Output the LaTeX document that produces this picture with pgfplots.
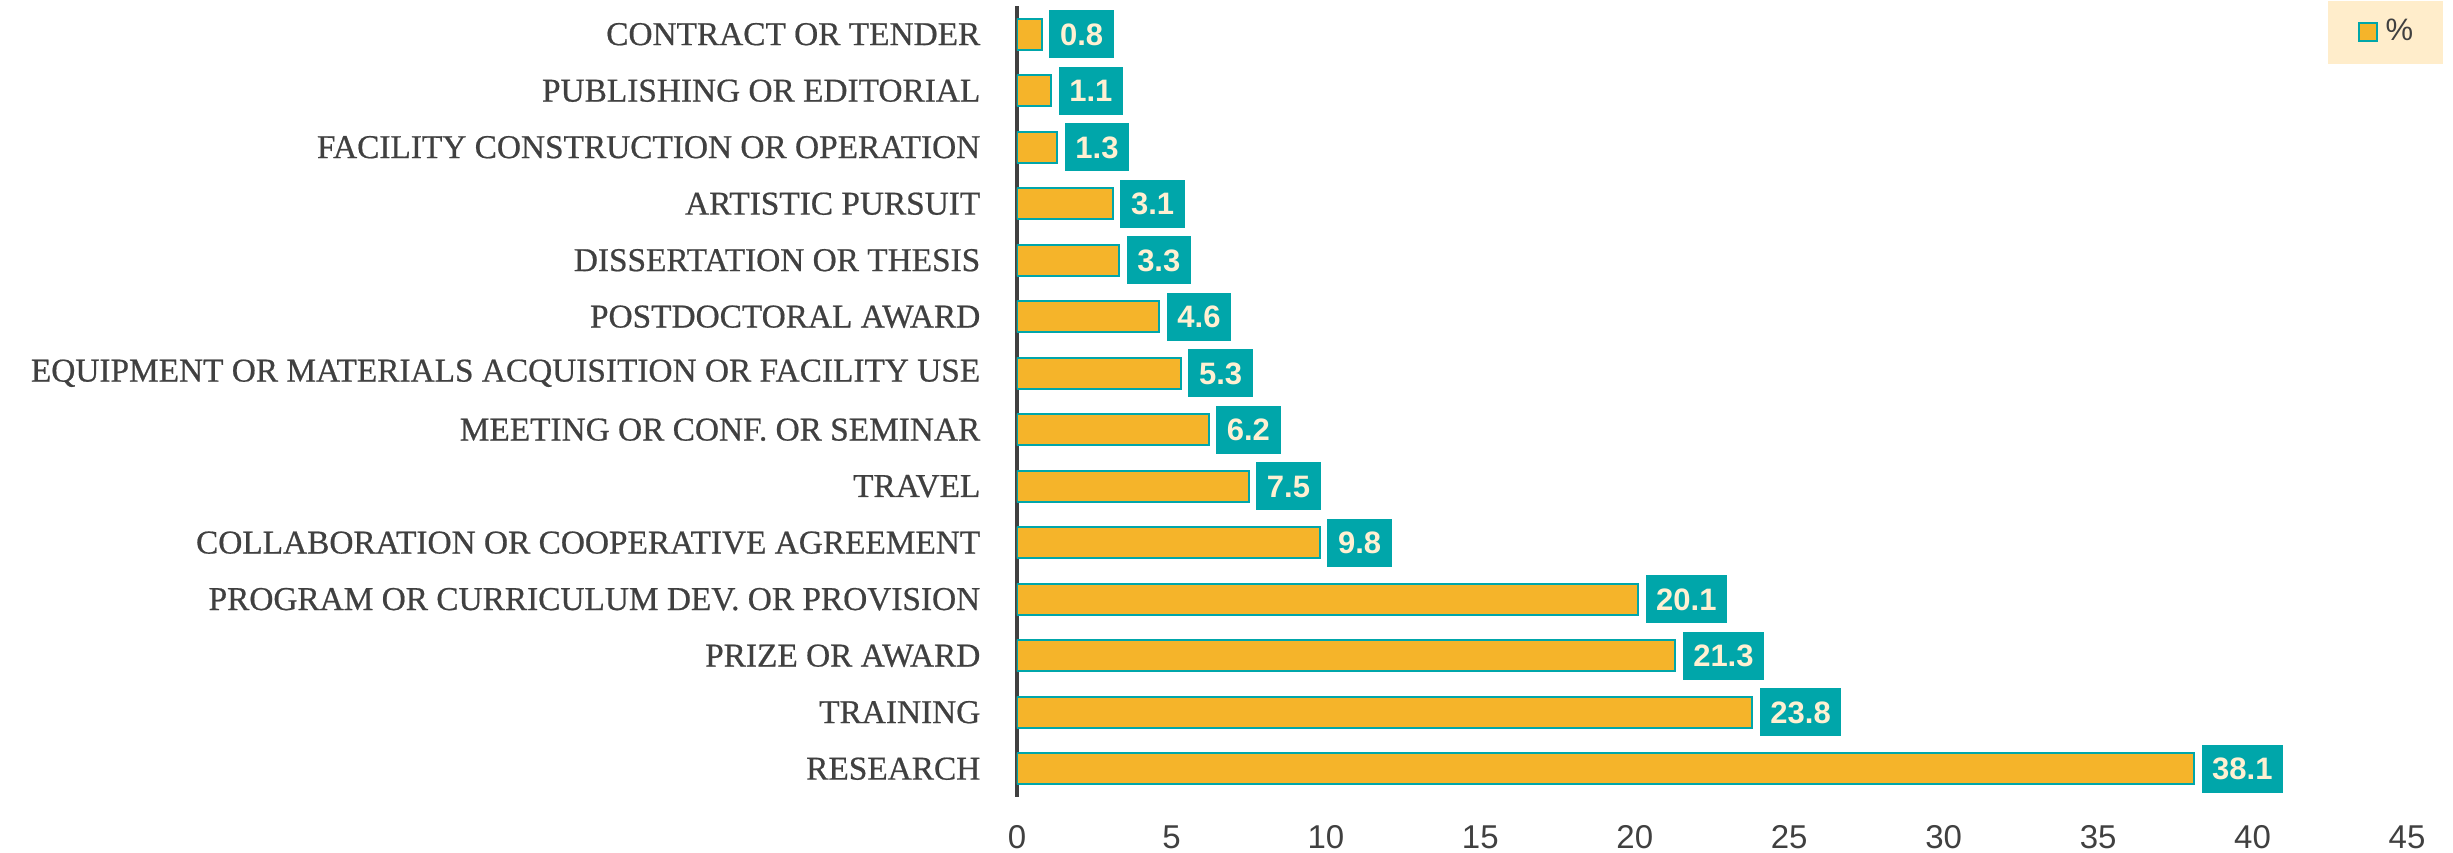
\documentclass[border=0pt]{standalone}
\usepackage{pgfplots}
\pgfplotsset{compat=1.18}
\usepackage{fontspec}
\setmainfont{Liberation Serif}
\newfontfamily\catf{Liberation Serif}[FakeBold=0.6]
\newfontfamily\sansf{Liberation Sans}
\definecolor{barfill}{HTML}{F5B42A}
\definecolor{teal}{HTML}{00A6AA}
\definecolor{cream}{HTML}{FFF0D2}
\definecolor{legcream}{HTML}{FFEDCB}
\definecolor{txt}{HTML}{404040}
\begin{document}
\begin{tikzpicture}
\begin{axis}[
  name=ax,
  at={(0,0)}, anchor=south west,
  scale only axis,
  width=417pt, height=237.3pt,
  xbar, bar width=9.3pt,
  xmin=0, xmax=45,
  ymin=-0.5, ymax=13.5,
  xtick={0,5,...,45},
  ytick={0,...,13},
  yticklabels={RESEARCH,TRAINING,PRIZE OR AWARD,PROGRAM OR CURRICULUM DEV. OR PROVISION,COLLABORATION OR COOPERATIVE AGREEMENT,TRAVEL,MEETING OR CONF. OR SEMINAR,EQUIPMENT OR MATERIALS ACQUISITION OR FACILITY USE,POSTDOCTORAL AWARD,DISSERTATION OR THESIS,ARTISTIC PURSUIT,FACILITY CONSTRUCTION OR OPERATION,PUBLISHING OR EDITORIAL,CONTRACT OR TENDER},
  major tick length=0pt,
  separate axis lines,
  axis x line*=bottom,
  axis y line*=left,
  x axis line style={draw=none},
  y axis line style={draw=txt, line width=1.2pt, -},
  /pgf/number format/assume math mode=true,
  xticklabel style={font=\sansf\fontsize{9.9}{11}\selectfont, text=txt, anchor=center, yshift=-12pt},
  yticklabel style={font=\catf\fontsize{10}{12}\selectfont, text=txt, anchor=east, inner sep=0pt, xshift=-10.8pt},
  nodes near coords={\pgfmathprintnumber[fixed,precision=1,fixed zerofill]{\pgfplotspointmeta}},
  every node near coord/.append style={anchor=west, fill=teal, text=cream,
     font=\sansf\bfseries\fontsize{9.3}{11}\selectfont, inner xsep=3.2pt, inner ysep=3.9pt,
     text height=6.7pt, text depth=0pt, xshift=2pt},
  legend style={at={(0.9424,1.00759)}, anchor=north west, fill=legcream, draw=none,
     inner xsep=9pt, inner ysep=5.6pt, font=\sansf\fontsize{9.3}{11}\selectfont, text=txt,
     nodes={inner sep=0pt},
     /tikz/every odd column/.append style={column sep=2.4pt}},
  legend image code/.code={\draw[#1] (0pt,-2.6pt) rectangle (5.4pt,2.8pt);},
]
\addplot[fill=barfill, draw=teal, line width=0.6pt] coordinates {
 (38.1,0) (23.8,1) (21.3,2) (20.1,3) (9.8,4) (7.5,5) (6.2,6) (5.3,7) (4.6,8) (3.3,9) (3.1,10) (1.3,11) (1.1,12) (0.8,13)};
\addlegendentry{\%}
\end{axis}
\pgfresetboundingbox
\useasboundingbox (ax.south west) ++(-305.1pt,-16.8pt) rectangle ++(735.9pt,255.9pt);
\end{tikzpicture}
\end{document}
